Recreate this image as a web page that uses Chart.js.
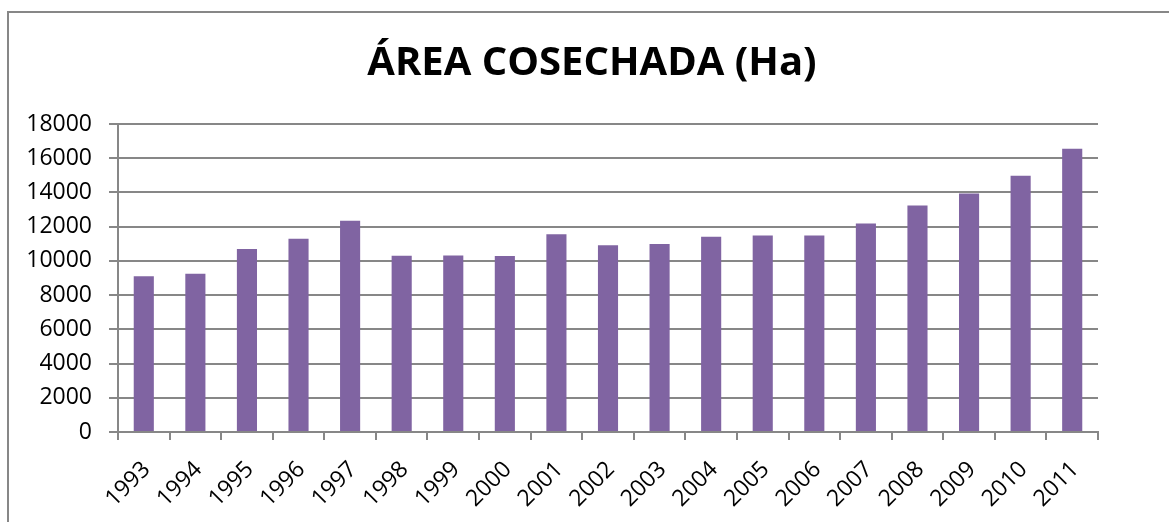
<!DOCTYPE html>
<html>
<head>
<meta charset="utf-8">
<script src="https://cdn.jsdelivr.net/npm/chart.js@4"></script>
<style>
  html, body { margin: 0; padding: 0; background: #fff; overflow: hidden; }
  #wrap { position: relative; width: 1169px; height: 522px; }
  #frame { position: absolute; left: 7px; top: 11px; width: 1300px; height: 700px; border: 2px solid #878787; }
  canvas { position: absolute; left: 0; top: 0; }
</style>
</head>
<body>
<div id="wrap">
  <div id="frame"></div>
  <canvas id="chart" width="1169" height="522"></canvas>
</div>
<script>
const years = ["1993","1994","1995","1996","1997","1998","1999","2000","2001","2002",
               "2003","2004","2005","2006","2007","2008","2009","2010","2011"];
const area  = [9100, 9250, 10700, 11300, 12350, 10300, 10310, 10280, 11560, 10920,
               10980, 11410, 11490, 11490, 12190, 13240, 13940, 14980, 16560];
const yMax  = 18000;
const yStep = 2000;

const FONT = "'Open Sans', sans-serif";

const ctx = document.getElementById("chart").getContext("2d");
new Chart(ctx, {
  type: "bar",
  data: {
    labels: years,
    datasets: [{
      label: "Área cosechada (Ha)",
      data: area,
      backgroundColor: "#8064a2",
      barPercentage: 0.39,
      categoryPercentage: 1
    }]
  },
  options: {
    responsive: false,
    animation: false,
    devicePixelRatio: 1,
    layout: { padding: { left: 15, right: 0, top: 0, bottom: 0 } },
    plugins: {
      legend: { display: false },
      tooltip: { enabled: false },
      title: {
        display: true,
        text: "ÁREA COSECHADA (Ha)",
        color: "#000",
        font: { family: FONT, size: 40, weight: "bold", lineHeight: 1.2 },
        padding: { top: 40, bottom: 36 }
      }
    },
    scales: {
      x: {
        grid: {
          display: true,
          offset: true,
          drawOnChartArea: false,
          drawTicks: true,
          tickLength: 8,
          color: "#878787",
          lineWidth: 2
        },
        border: { display: true, color: "#878787", width: 2 },
        ticks: {
          color: "#000",
          font: { family: FONT, size: 23 },
          minRotation: 45,
          maxRotation: 45,
          labelOffset: 3,
          padding: 16
        },
        afterFit: s => { s.height = 90; }
      },
      y: {
        min: 0,
        max: yMax,
        grid: { color: "#878787", lineWidth: 2, tickLength: 9 },
        border: { display: true, color: "#878787", width: 2 },
        ticks: {
          stepSize: yStep,
          color: "#000",
          font: { family: FONT, size: 23 },
          padding: 17,
          callback: v => String(v)
        },
        afterFit: s => { s.width = 103; }
      },
      yRight: {
        position: "right",
        display: true,
        grid: { display: false, drawTicks: false },
        border: { display: false },
        ticks: { display: false },
        afterFit: s => { s.width = 71; }
      }
    }
  }
});
</script>
</body>
</html>
